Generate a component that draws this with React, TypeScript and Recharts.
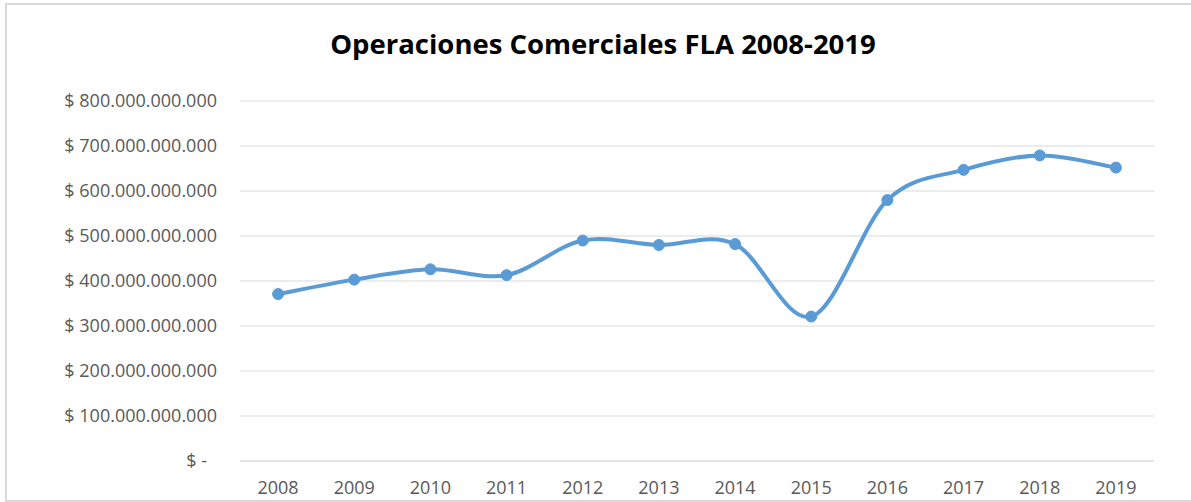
import { LineChart, Line, XAxis, YAxis, CartesianGrid } from "recharts";

const years = ["2008", "2009", "2010", "2011", "2012", "2013", "2014", "2015", "2016", "2017", "2018", "2019"];
const operaciones = [
  371e9, 403e9, 426e9, 413e9, 490e9, 480e9, 482e9, 321e9, 580e9, 647e9, 679e9, 652e9,
];
const yTicks = [0, 100e9, 200e9, 300e9, 400e9, 500e9, 600e9, 700e9, 800e9];

const data = years.map((year, i) => ({ year, value: operaciones[i] }));

const BLUE = "#5B9BD5";
const GRID = "#d9d9d9";
const TEXT = "#595959";
const FONT = "Open Sans";

// Excel-like smoothed line (Catmull-Rom through every point)
const excelCurve = (ctx: any) => {
  let pts: number[][] = [];
  return {
    areaStart() {},
    areaEnd() {},
    lineStart() {
      pts = [];
    },
    point(x: number, y: number) {
      pts.push([+x, +y]);
    },
    lineEnd() {
      if (!pts.length) return;
      ctx.moveTo(pts[0][0], pts[0][1]);
      for (let i = 0; i < pts.length - 1; i++) {
        const p0 = pts[i - 1] || pts[i];
        const p1 = pts[i];
        const p2 = pts[i + 1];
        const p3 = pts[i + 2] || p2;
        ctx.bezierCurveTo(
          p1[0] + (p2[0] - p0[0]) / 6,
          p1[1] + (p2[1] - p0[1]) / 6,
          p2[0] - (p3[0] - p1[0]) / 6,
          p2[1] - (p3[1] - p1[1]) / 6,
          p2[0],
          p2[1]
        );
      }
    },
  };
};

const money = (v: number) => {
  if (v === 0) return "$ -";
  const s = Math.round(v).toString().replace(/\B(?=(\d{3})+(?!\d))/g, ".");
  return "$ " + s;
};

const YTick = (props: any) => {
  const { x, y, payload } = props;
  const zero = payload.value === 0;
  return (
    <text
      x={zero ? x - 10 : x}
      y={y}
      dy="0.35em"
      textAnchor="end"
      fill={TEXT}
      fontSize={18}
      fontFamily={FONT}
    >
      {money(payload.value)}
    </text>
  );
};

export default function App() {
  return (
    <div
      style={{
        position: "absolute",
        left: 0,
        top: 0,
        width: 1191,
        height: 502,
        overflow: "hidden",
        background: "#fff",
      }}
    >
      <div
        style={{
          position: "absolute",
          left: 5,
          top: 3,
          width: 1220,
          height: 495,
          borderTop: "2px solid #d9d9d9",
          borderLeft: "2px solid #d9d9d9",
          borderBottom: "2px solid #d9d9d9",
        }}
      />
      <div
        style={{
          position: "absolute",
          left: 0,
          width: 1191,
          top: 25,
          textAlign: "center",
          paddingLeft: 15,
          boxSizing: "border-box",
          fontFamily: FONT,
          fontWeight: 700,
          fontSize: 27.5,
          color: "#000",
        }}
      >
        Operaciones Comerciales FLA 2008-2019
      </div>
      <div style={{ position: "absolute", left: 0, top: 0 }}>
        <LineChart width={1191} height={502} data={data} margin={{ top: 101, right: 37, left: 0, bottom: 0 }}>
          <CartesianGrid vertical={false} stroke={GRID} strokeWidth={1} />
          <XAxis
            dataKey="year"
            scale="band"
            height={41}
            axisLine={{ stroke: GRID }}
            tickLine={false}
            tickSize={0}
            tickMargin={20}
            tick={{ fill: TEXT, fontSize: 18, fontFamily: FONT }}
            interval={0}
          />
          <YAxis
            width={240}
            domain={[0, 800e9]}
            ticks={yTicks}
            axisLine={false}
            tickLine={false}
            tickSize={0}
            tickMargin={23}
            tick={<YTick />}
            interval={0}
          />
          <Line
            dataKey="value"
            type={excelCurve as any}
            stroke={BLUE}
            strokeWidth={4}
            dot={{ r: 5.5, fill: BLUE, stroke: BLUE, strokeWidth: 1 }}
            activeDot={false}
            isAnimationActive={false}
          />
        </LineChart>
      </div>
    </div>
  );
}
